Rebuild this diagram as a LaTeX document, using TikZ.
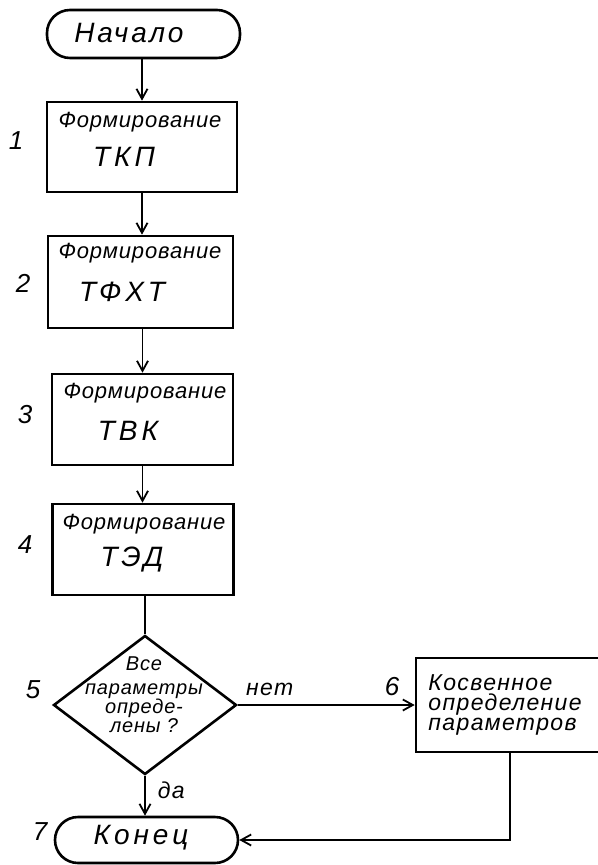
\documentclass[tikz,border=0pt]{standalone}
\usepackage{fontspec}
\setmainfont{Liberation Sans}
\usetikzlibrary{arrows.meta,shapes.geometric}
\begin{document}
\begin{tikzpicture}[x=0.5pt,y=-0.5pt,
  hand/.style={font=\itshape\fontsize{11}{13}\selectfont\addfontfeature{LetterSpace=4}, inner sep=0pt},
  note/.style={font=\itshape\fontsize{11.5}{10}\selectfont\addfontfeature{LetterSpace=6}, inner sep=0pt},
  query/.style={font=\itshape\fontsize{10}{9.5}\selectfont\addfontfeature{LetterSpace=4}, inner sep=0pt, align=center},
  big/.style={font=\itshape\fontsize{14}{16}\selectfont\addfontfeature{LetterSpace=14}, inner sep=0pt},
  num/.style={font=\itshape\fontsize{13}{15}\selectfont, inner sep=0pt},
  blk/.style={draw, line width=1.3pt, inner sep=0pt},
  term/.style={blk, rounded corners=11.5pt},
  flow/.style={line width=0.9pt, -{Straight Barb[length=5pt,width=5.5pt]}},
  link/.style={line width=0.9pt}]
\fill[white] (0,0) rectangle (598,865);
\useasboundingbox (0,0) rectangle (598,865);
\clip (0,0) rectangle (598,865);

% blocks
\node[term, minimum width=96.5pt, minimum height=24pt] (start) at (143.5,34) {};
\node[blk, minimum width=95pt, minimum height=45pt] (b1) at (142,147) {};
\node[blk, minimum width=92.5pt, minimum height=46pt] (b2) at (140.5,282) {};
\node[blk, minimum width=90.5pt, minimum height=45.5pt] (b3) at (142.5,419.5) {};
\node[blk, minimum width=90.5pt, minimum height=45.5pt] (b4) at (143,549.5) {};
\node[blk, diamond, minimum width=91.5pt, minimum height=69.5pt] (d5) at (145,705) {};
\node[blk, minimum width=94pt, minimum height=47pt] (b6) at (510,705) {};
\node[term, minimum width=91.5pt, minimum height=23pt] (end) at (146.5,840) {};

% block texts
\node[big] (tstart) at (129,33) {\addfontfeature{LetterSpace=10}Начало};
\node[hand] (t1a) at (140,122) {Формирование};
\node[big] (t1b) at (124,157) {ТКП};
\node[hand] (t2a) at (140,253) {Формирование};
\node[big] (t2b) at (122,292) {ТФХТ};
\node[hand] (t3a) at (145,393) {Формирование};
\node[big] (t3b) at (128,431) {ТВК};
\node[hand] (t4a) at (144,524) {Формирование};
\node[big] (t4b) at (132,560) {ТЭД};
\node[query] (t5) at (144,695) {Все\\[2.5pt]параметры\\опреде-\\лены ?};
\node[note, anchor=west, align=left] (t6) at (428,705) {Косвенное\\определение\\параметров};
\node[big] (tend) at (141,838) {Конец};

% step numbers
\node[num] (n1) at (16,141) {1};
\node[num] (n2) at (23,283) {2};
\node[num] (n3) at (25,415) {3};
\node[num] (n4) at (25,545) {4};
\node[num] (n5) at (33,690) {5};
\node[num] (n6) at (392,687) {6};
\node[num] (n7) at (40,832) {7};

% connectors
\draw[flow] (b1.north |- start.south) -- (b1.north);
\draw[flow] (b1.south) -- (b1.south |- b2.north);
\draw[flow] (b3.north |- b2.south) -- (b3.north);
\draw[flow] (b3.south) -- (b3.south |- b4.north);
\draw[link] (d5.north |- b4.south) -- (d5.north);
\draw[flow] (d5.east) -- node[note, above=4pt, pos=0.18] (no) {нет} (b6.west);
\draw[flow] (d5.south) -- node[note, right=6pt, pos=0.35] (yes) {да} (d5.south |- end.north);
\draw[flow] (b6.south) -- (b6.south |- end.east) -- (end.east);
\end{tikzpicture}
\end{document}
